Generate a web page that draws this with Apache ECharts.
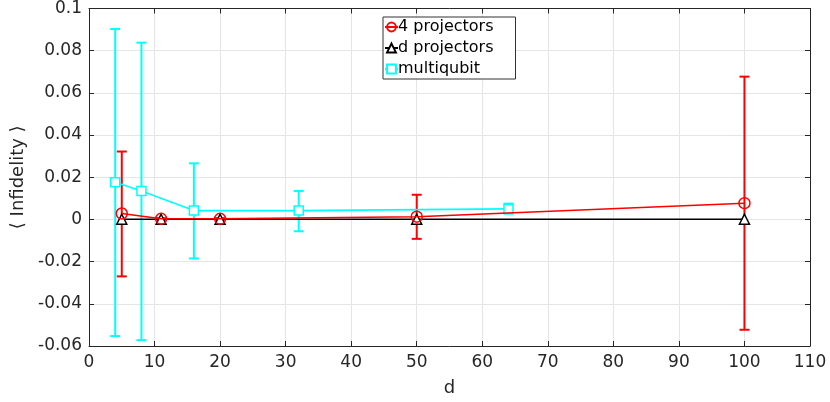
<!DOCTYPE html>
<html><head><meta charset="utf-8">
<script src="https://cdn.jsdelivr.net/npm/echarts@6/dist/echarts.min.js"></script>
<style>html,body{margin:0;padding:0;background:#fff}#c{width:830px;height:402px}</style>
</head><body><div id="c"></div>
<script>
var seriesNames = ['4 projectors', 'd projectors', 'multiqubit'];
var dFour = [5, 11, 20, 50, 100];
var fourMean = [0.0028, 0.0003, 0.0003, 0.0013, 0.0077];
var fourLow  = [-0.0270, 0.0000, 0.0000, -0.0092, -0.0523];
var fourHigh = [0.0322, 0.0006, 0.0006, 0.0117, 0.0677];
var dD = [5, 11, 20, 50, 100];
var dMean = [0.0001, 0.0001, 0.0001, 0.0001, 0.0001];
var dQ = [4, 8, 16, 32, 64];
var qMean = [0.0176, 0.0135, 0.0042, 0.0042, 0.0050];
var qLow  = [-0.0553, -0.0572, -0.0185, -0.0056, 0.0028];
var qHigh = [0.0903, 0.0838, 0.0266, 0.0135, 0.0075];
var xTicks = [0, 10, 20, 30, 40, 50, 60, 70, 80, 90, 100, 110];
var yTicks = [-0.06, -0.04, -0.02, 0, 0.02, 0.04, 0.06, 0.08, 0.1];

function pairs(xs, ys){ return xs.map(function(x,i){return [x, ys[i]];}); }
function errData(xs, lo, hi){ return xs.map(function(x,i){return [x, lo[i], hi[i]];}); }
function errSeries(data, color){
  return {
    type:'custom', silent:true, z:3,
    data:data,
    encode:{x:0, y:[1,2]},
    renderItem:function(params, api){
      var x = api.value(0);
      var lo = api.coord([x, api.value(1)]);
      var hi = api.coord([x, api.value(2)]);
      var w = 5;
      var st = {stroke:color, lineWidth:2, fill:null};
      return {type:'group', children:[
        {type:'line', shape:{x1:lo[0], y1:lo[1], x2:hi[0], y2:hi[1]}, style:st},
        {type:'line', shape:{x1:lo[0]-w, y1:lo[1], x2:lo[0]+w, y2:lo[1]}, style:st},
        {type:'line', shape:{x1:hi[0]-w, y1:hi[1], x2:hi[0]+w, y2:hi[1]}, style:st}
      ]};
    }
  };
}
var font = 'DejaVu Sans';
var axisColor = '#262626';
var chart = echarts.init(document.getElementById('c'));
var gridLine = {show:true, lineStyle:{color:'#e5e5e5', width:1}};
chart.setOption({
  animation:false,
  backgroundColor:'#fff',
  textStyle:{fontFamily:font},
  grid:{left:89, right:20, top:5, bottom:54, containLabel:false},
  legend:{
    orient:'vertical', left:383, top:17,
    padding:[2,22,2,1], itemGap:5, itemWidth:13, itemHeight:11,
    backgroundColor:'#fff', borderColor:'#333', borderWidth:1, borderRadius:0,
    textStyle:{fontFamily:font, fontSize:16, color:'#000', padding:[0,0,0,-5]},
    data:seriesNames
  },
  xAxis:[{
    type:'value', min:0, max:110, interval:10, position:'bottom',
    name:'d', nameLocation:'middle', nameGap:33,
    nameTextStyle:{fontFamily:font, fontSize:18, color:axisColor},
    axisLine:{show:true, onZero:false, lineStyle:{color:axisColor, width:1}},
    axisTick:{show:true, inside:true, length:5, lineStyle:{color:axisColor}},
    axisLabel:{fontFamily:font, fontSize:17, color:axisColor, margin:8},
    splitLine:gridLine
  },{
    type:'value', min:0, max:110, interval:10, position:'top',
    axisLine:{show:true, onZero:false, lineStyle:{color:axisColor, width:1}},
    axisTick:{show:true, inside:true, length:5, lineStyle:{color:axisColor}},
    axisLabel:{show:false}, splitLine:{show:false}
  }],
  yAxis:[{
    type:'value', min:-0.06, max:0.1, interval:0.02, position:'left',
    name:'\u27E8 Infidelity \u27E9', nameLocation:'middle', nameGap:62, nameRotate:90,
    nameTextStyle:{fontFamily:font, fontSize:18, color:axisColor},
    axisLine:{show:true, onZero:false, lineStyle:{color:axisColor, width:1}},
    axisTick:{show:true, inside:true, length:5, lineStyle:{color:axisColor}},
    axisLabel:{fontFamily:font, fontSize:17, color:axisColor, margin:7,
      formatter:function(v){ var r = Math.round(v*100)/100; return String(r); }},
    splitLine:gridLine
  },{
    type:'value', min:-0.06, max:0.1, interval:0.02, position:'right',
    axisLine:{show:true, onZero:false, lineStyle:{color:axisColor, width:1}},
    axisTick:{show:true, inside:true, length:5, lineStyle:{color:axisColor}},
    axisLabel:{show:false}, splitLine:{show:false}
  }],
  series:[
    errSeries(errData(dQ, qLow, qHigh), '#00ffff'),
    errSeries(errData(dFour, fourLow, fourHigh), '#ff0000'),
    {name:seriesNames[2], type:'line', data:pairs(dQ, qMean), z:4,
      symbol:'rect', symbolSize:9, showAllSymbol:true,
      lineStyle:{color:'#00ffff', width:1.6}, itemStyle:{color:'#fff', borderColor:'#00ffff', borderWidth:1.5}},
    {name:seriesNames[1], type:'line', data:pairs(dD, dMean), z:5,
      symbol:'triangle', symbolSize:10, showAllSymbol:true,
      lineStyle:{color:'#000', width:1.6}, itemStyle:{color:'#fff', borderColor:'#000', borderWidth:1.5}},
    {name:seriesNames[0], type:'line', data:pairs(dFour, fourMean), z:6,
      symbol:'circle', symbolSize:11, showAllSymbol:true,
      lineStyle:{color:'#ff0000', width:1.6}, itemStyle:{color:'rgba(255,255,255,0)', borderColor:'#ff0000', borderWidth:1.5}}
  ]
});
</script></body></html>
